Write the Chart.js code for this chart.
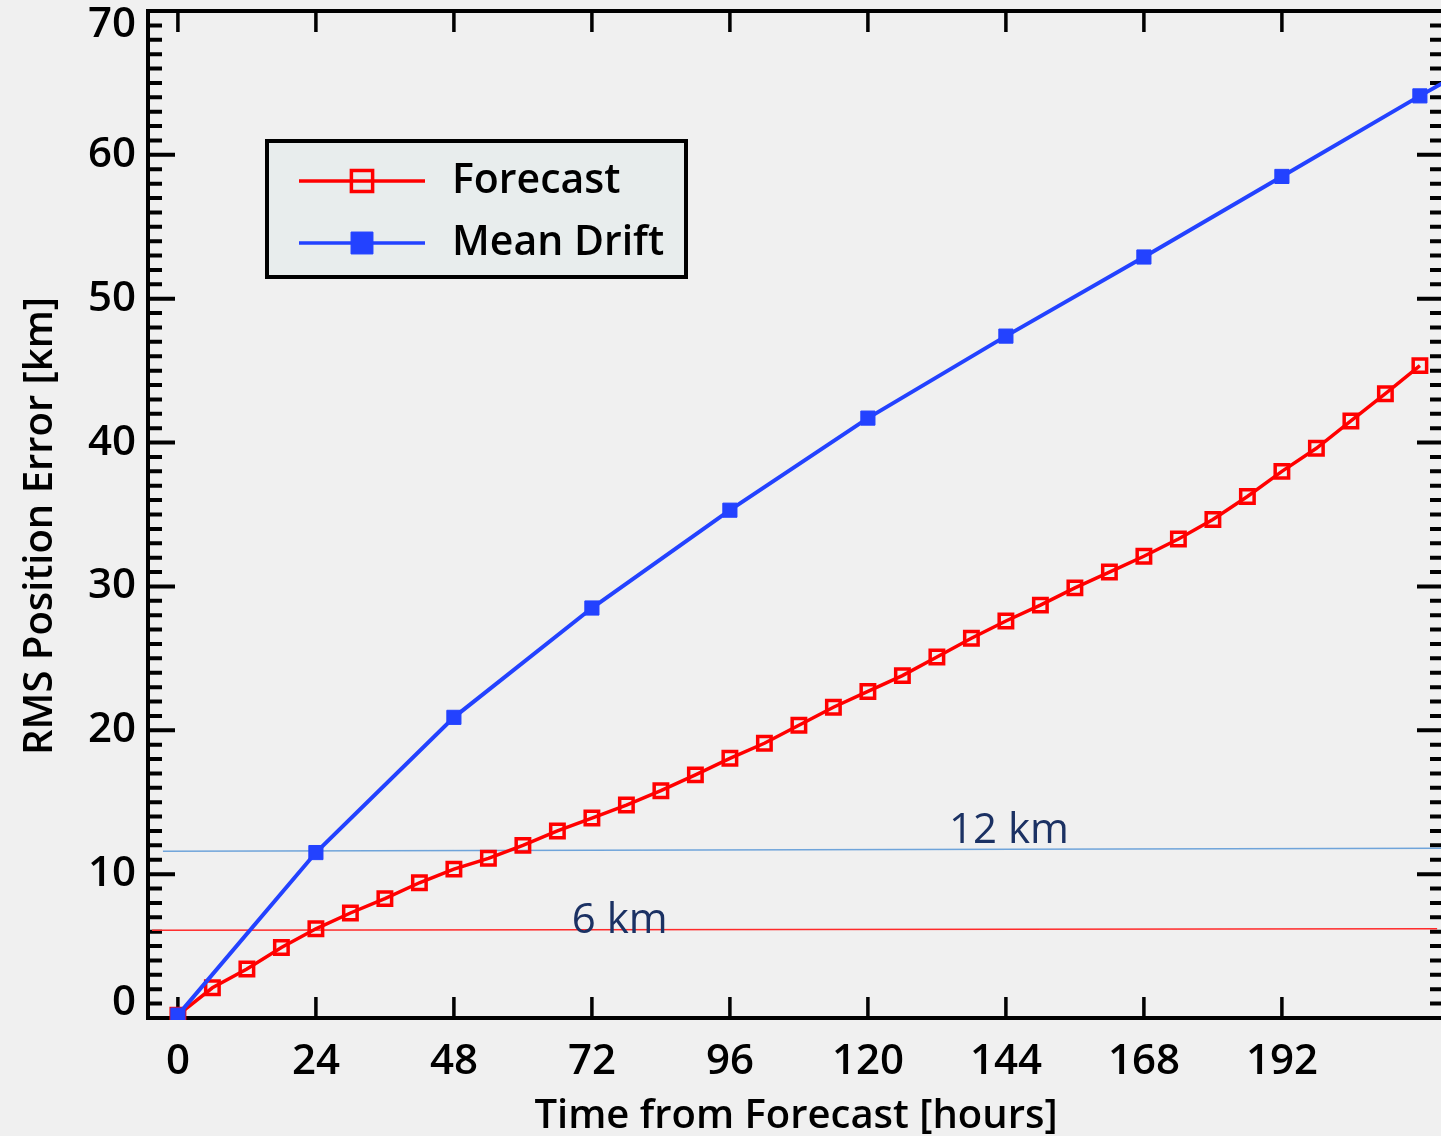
<!DOCTYPE html>
<html>
<head>
<meta charset="utf-8">
<title>RMS Position Error</title>
<script src="https://cdn.jsdelivr.net/npm/chart.js@4.4.1/dist/chart.umd.min.js"></script>
<style>
    html, body { margin: 0; padding: 0; background: #f0f0f0; overflow: hidden; }
    canvas { display: block; }
</style>
</head>
<body>
<canvas id="errorChart" width="1441" height="1136"></canvas>
<script>
// Forecast: every 6 hours
const forecastHours = [0, 6, 12, 18, 24, 30, 36, 42, 48, 54, 60, 66, 72, 78, 84, 90, 96, 102, 108,
    114, 120, 126, 132, 138, 144, 150, 156, 162, 168, 174, 180, 186, 192, 198, 204, 210, 216];
const forecastError = [0.2, 2.1, 3.4, 4.9, 6.2, 7.3, 8.3, 9.4, 10.35, 11.1, 12.0, 13.0, 13.9, 14.8,
    15.8, 16.9, 18.05, 19.1, 20.35, 21.6, 22.7, 23.8, 25.1, 26.4, 27.6, 28.7, 29.9, 31.0, 32.1,
    33.3, 34.65, 36.25, 38.0, 39.6, 41.5, 43.4, 45.35];

// Mean drift: every 24 hours (last point lies outside the frame)
const driftHours = [0, 24, 48, 72, 96, 120, 144, 168, 192, 216, 240];
const driftError = [0.2, 11.5, 20.9, 28.5, 35.3, 41.7, 47.4, 52.9, 58.5, 64.1, 69.5];

// Reference lines (slightly tilted in the original)
const ref12Hours = [-2.6, 220];
const ref12 = [11.6, 11.8];
const ref6Hours = [-4.5, 219];
const ref6 = [6.1, 6.2];

const xTicks = [0, 24, 48, 72, 96, 120, 144, 168, 192];
const yTicks = [0, 10, 20, 30, 40, 50, 60, 70];

const RED = '#ff0000';
const BLUE = '#2342ff';
const TEXT_FONT = '"Open Sans", "DejaVu Sans", sans-serif';

const toPoints = (xs, ys) => xs.map((x, i) => ({ x: x, y: ys[i] }));

// Frame, inward ticks, labels, legend
const framePlugin = {
    id: 'frame',
    beforeDatasetsDraw(chart) {
        const { ctx, chartArea: a, scales: { x, y } } = chart;
        // the right side of the frame sits just past the edge of the picture
        const right = a.right + 3;
        ctx.save();
        ctx.strokeStyle = '#000';
        ctx.lineCap = 'butt';

        // x ticks, bottom and top
        ctx.lineWidth = 3.5;
        xTicks.forEach(v => {
            const px = x.getPixelForValue(v);
            ctx.beginPath();
            ctx.moveTo(px, a.bottom); ctx.lineTo(px, a.bottom - 21);
            ctx.moveTo(px, a.top); ctx.lineTo(px, a.top + 21);
            ctx.stroke();
        });

        // y ticks, left and right, minor every 1
        ctx.lineWidth = 4;
        for (let v = 1; v < 70; v++) {
            const py = y.getPixelForValue(v);
            const len = v % 10 === 0 ? 27 : 14;
            ctx.beginPath();
            ctx.moveTo(a.left, py); ctx.lineTo(a.left + len, py);
            ctx.moveTo(right, py); ctx.lineTo(right - len, py);
            ctx.stroke();
        }

        ctx.lineWidth = 4;
        ctx.strokeRect(a.left, a.top, right - a.left, a.bottom - a.top);
        ctx.restore();
    },
    afterDatasetsDraw(chart) {
        const { ctx, chartArea: a, scales: { x, y } } = chart;
        ctx.save();
        ctx.fillStyle = '#000';

        // tick labels
        ctx.font = '600 42px ' + TEXT_FONT;
        ctx.textAlign = 'center';
        ctx.textBaseline = 'middle';
        xTicks.forEach(v => ctx.fillText(String(v), x.getPixelForValue(v), 1062));
        ctx.textAlign = 'right';
        yTicks.forEach(v => {
            let py = y.getPixelForValue(v);
            py = Math.min(Math.max(py, a.top + 14), a.bottom - 15);
            ctx.fillText(String(v), a.left - 12, py);
        });

        // axis titles
        ctx.font = '600 40px ' + TEXT_FONT;
        ctx.textAlign = 'center';
        ctx.textBaseline = 'alphabetic';
        ctx.fillText('Time from Forecast [hours]', (a.left + a.right + 3) / 2, 1128);
        ctx.save();
        ctx.translate(52, 526);
        ctx.rotate(-Math.PI / 2);
        ctx.fillText('RMS Position Error [km]', 0, 0);
        ctx.restore();

        // reference labels
        ctx.fillStyle = '#1b3163';
        ctx.font = '400 42px ' + TEXT_FONT;
        ctx.textAlign = 'left';
        ctx.fillText('12 km', x.getPixelForValue(134.1), y.getPixelForValue(12.15));
        ctx.fillText('6 km', x.getPixelForValue(68.5), y.getPixelForValue(5.9));

        // legend
        const box = { left: 267, top: 141, right: 686, bottom: 277 };
        ctx.fillStyle = '#e8eded';
        ctx.fillRect(box.left, box.top, box.right - box.left, box.bottom - box.top);
        ctx.lineWidth = 4;
        ctx.strokeStyle = '#000';
        ctx.strokeRect(box.left, box.top, box.right - box.left, box.bottom - box.top);

        const rows = [
            { ds: chart.data.datasets[0], y: 181, radius: 15 },
            { ds: chart.data.datasets[1], y: 243, radius: 15.5 }
        ];
        rows.forEach(r => {
            ctx.strokeStyle = r.ds.borderColor;
            ctx.lineWidth = 3.5;
            ctx.beginPath();
            ctx.moveTo(299, r.y); ctx.lineTo(425, r.y);
            ctx.stroke();
            ctx.fillStyle = r.ds.pointBackgroundColor;
            ctx.strokeStyle = r.ds.pointBorderColor;
            ctx.lineWidth = r.ds.pointBorderWidth;
            Chart.helpers.drawPoint(ctx, { pointStyle: 'rect', radius: r.radius, borderWidth: r.ds.pointBorderWidth }, 362, r.y);
            ctx.fillStyle = '#000';
            ctx.font = '600 41px ' + TEXT_FONT;
            ctx.textBaseline = 'alphabetic';
            ctx.fillText(r.ds.label, 452, r.y + 12);
        });
        ctx.restore();
    }
};

new Chart(document.getElementById('errorChart'), {
    type: 'line',
    data: {
        datasets: [
            {
                label: 'Forecast',
                data: toPoints(forecastHours, forecastError),
                borderColor: RED,
                borderWidth: 3.5,
                pointStyle: 'rect',
                pointRadius: 9.5,
                pointBorderWidth: 3.5,
                pointBorderColor: RED,
                pointBackgroundColor: 'rgba(0,0,0,0)',
                order: 1
            },
            {
                label: 'Mean Drift',
                data: toPoints(driftHours, driftError),
                borderColor: BLUE,
                borderWidth: 4,
                pointStyle: 'rect',
                pointRadius: 10,
                pointBorderWidth: 1,
                pointBorderColor: BLUE,
                pointBackgroundColor: BLUE,
                order: 0
            },
            {
                label: '12 km',
                data: toPoints(ref12Hours, ref12),
                borderColor: '#6fa4da',
                borderWidth: 1.5,
                pointRadius: 0,
                order: 3
            },
            {
                label: '6 km',
                data: toPoints(ref6Hours, ref6),
                borderColor: '#ff2a2a',
                borderWidth: 1.5,
                pointRadius: 0,
                order: 3
            }
        ]
    },
    options: {
        responsive: false,
        animation: false,
        devicePixelRatio: 1,
        clip: { left: 12, top: 12, right: 0, bottom: 2 },
        layout: { autoPadding: false, padding: { left: 148, top: 11, right: 0, bottom: 118 } },
        scales: {
            x: { type: 'linear', display: false, min: -5.2, max: 219.67 },
            y: { type: 'linear', display: false, min: 0, max: 70 }
        },
        plugins: {
            legend: { display: false },
            tooltip: { enabled: false }
        }
    },
    plugins: [framePlugin]
});
</script>
</body>
</html>
